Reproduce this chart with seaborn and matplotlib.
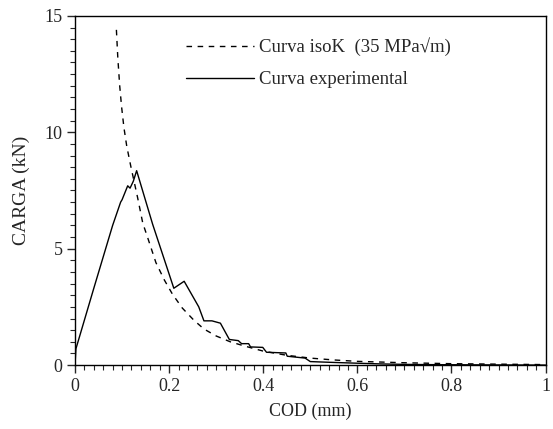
import matplotlib
matplotlib.use('Agg')
import matplotlib.pyplot as plt
from matplotlib.ticker import MultipleLocator, FuncFormatter
import seaborn as sns
import pandas as pd

# isoK curve (35 MPa sqrt(m))
iso_cod = [0.088, 0.091, 0.095, 0.099, 0.104, 0.110, 0.119, 0.133, 0.144, 0.154,
           0.172, 0.190, 0.207, 0.228, 0.253, 0.274, 0.300, 0.330, 0.360, 0.400,
           0.450, 0.500, 0.550, 0.600, 0.700, 0.800, 0.900, 1.000]
iso_load = [14.4, 13.2, 12.0, 11.1, 10.2, 9.4, 8.5, 7.2, 6.1, 5.5,
            4.4, 3.65, 3.05, 2.45, 1.92, 1.55, 1.25, 1.0, 0.82, 0.6,
            0.42, 0.30, 0.22, 0.16, 0.10, 0.06, 0.04, 0.02]

# experimental curve
exp_cod = [0.0, 0.002, 0.040, 0.080, 0.097, 0.100, 0.112, 0.117, 0.124, 0.131,
           0.165, 0.210, 0.232, 0.263, 0.274, 0.291, 0.309, 0.328, 0.347, 0.354,
           0.369, 0.373, 0.399, 0.407, 0.448, 0.451, 0.489, 0.500, 0.540, 0.600,
           0.650, 0.700, 0.750, 0.850, 1.000]
exp_load = [0.0, 0.7, 3.3, 6.0, 7.0, 7.1, 7.7, 7.6, 7.9, 8.35,
            6.05, 3.3, 3.6, 2.5, 1.9, 1.9, 1.8, 1.1, 1.05, 0.92,
            0.92, 0.78, 0.76, 0.55, 0.52, 0.38, 0.30, 0.15, 0.12, 0.08,
            0.05, 0.03, 0.02, 0.01, 0.0]

iso_df = pd.DataFrame({"cod": iso_cod, "carga": iso_load})
exp_df = pd.DataFrame({"cod": exp_cod, "carga": exp_load})

sns.set_style("ticks")
plt.rcParams['font.family'] = ['Liberation Serif', 'DejaVu Serif']

fig = plt.figure(figsize=(5.53, 4.29), dpi=100)
ax = fig.add_axes([0.1356, 0.149, 0.851, 0.814])

sns.lineplot(data=iso_df, x="cod", y="carga", ax=ax, color="black", lw=1.0,
             estimator=None, sort=False, label="Curva isoK  (35 MPa\u221am)")
ax.lines[-1].set_dashes((4, 4))
sns.lineplot(data=exp_df, x="cod", y="carga", ax=ax, color="black", lw=1.0,
             estimator=None, sort=False, label="Curva experimental")

ax.set_xlim(0, 1)
ax.set_ylim(0, 15)
ax.xaxis.set_major_locator(MultipleLocator(0.2))
ax.xaxis.set_minor_locator(MultipleLocator(0.02))
ax.yaxis.set_major_locator(MultipleLocator(5))
ax.yaxis.set_minor_locator(MultipleLocator(0.5))
fmt = FuncFormatter(lambda v, p: f"{v:g}")
ax.xaxis.set_major_formatter(fmt)
ax.yaxis.set_major_formatter(fmt)
ax.tick_params(which='major', length=6, width=1, labelsize=13, direction='out', pad=3)
ax.tick_params(which='minor', length=3.5, width=0.8, direction='out')
for s in ax.spines.values():
    s.set_linewidth(1.0)
    s.set_color("black")

ax.set_xlabel("COD (mm)", fontsize=13, labelpad=6)
ax.set_ylabel("CARGA (kN)", fontsize=14, labelpad=10)

ax.legend(loc="upper left", bbox_to_anchor=(0.22, 0.96), frameon=False,
          fontsize=13.5, handlelength=3.6, labelspacing=0.8, handletextpad=0.3,
          borderaxespad=0)

fig.savefig("out.png", dpi=100)
